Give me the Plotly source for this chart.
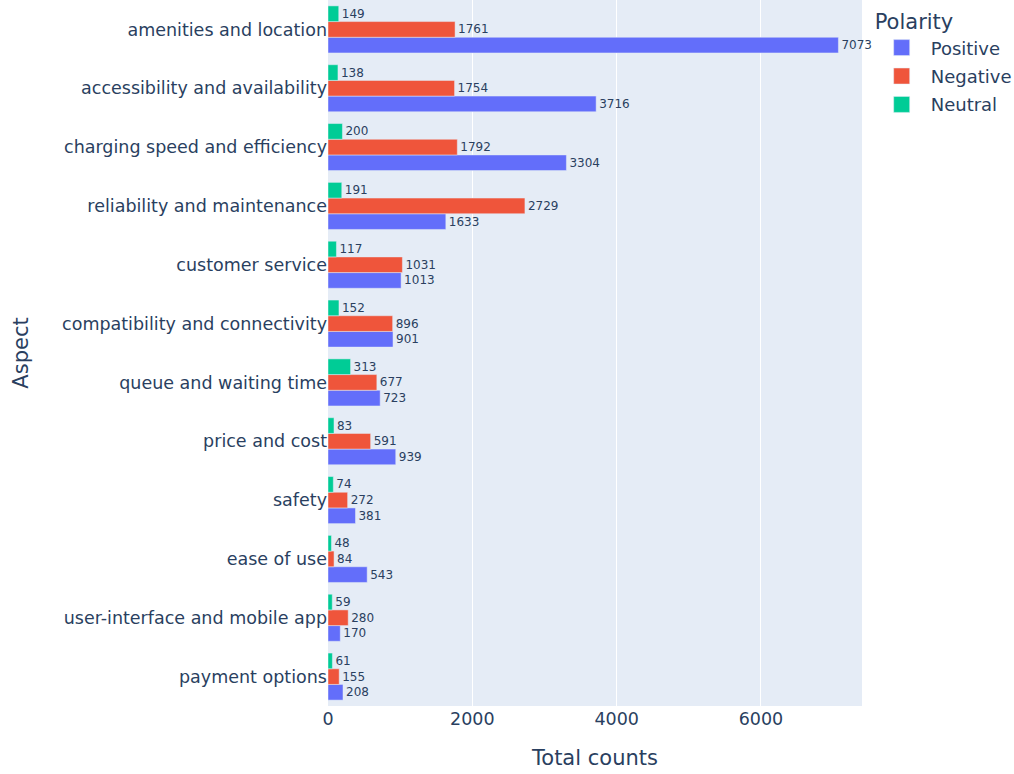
import plotly.graph_objects as go

aspects = ["amenities and location", "accessibility and availability", "charging speed and efficiency",
           "reliability and maintenance", "customer service", "compatibility and connectivity",
           "queue and waiting time", "price and cost", "safety", "ease of use",
           "user-interface and mobile app", "payment options"]
positive = [7073, 3716, 3304, 1633, 1013, 901, 723, 939, 381, 543, 170, 208]
negative = [1761, 1754, 1792, 2729, 1031, 896, 677, 591, 272, 84, 280, 155]
neutral = [149, 138, 200, 191, 117, 152, 313, 83, 74, 48, 59, 61]

series = [("Positive", positive, "#636efa"), ("Negative", negative, "#EF553B"), ("Neutral", neutral, "#00cc96")]

fig = go.Figure()
for name, vals, color in series:
    fig.add_trace(go.Bar(y=aspects, x=vals, name=name, orientation="h", marker_color=color,
                         marker_line=dict(color="#E5ECF6", width=0.5),
                         text=vals, textposition="outside", textfont=dict(size=12),
                         cliponaxis=False, showlegend=False, legendgroup=name))
# legend entries (larger square symbols)
for name, vals, color in series:
    fig.add_trace(go.Scatter(x=[None], y=[None], mode="markers", name=name, legendgroup=name,
                             marker=dict(symbol="square", size=16, color=color,
                                         line=dict(color="#E5ECF6", width=0.5))))

fig.update_layout(
    width=1014, height=774,
    barmode="group",
    font=dict(family="Verdana, DejaVu Sans, sans-serif", color="#2a3f5f"),
    plot_bgcolor="#E5ECF6", paper_bgcolor="white",
    margin=dict(l=328, r=152, t=0, b=68, autoexpand=False),
    legend=dict(title=dict(text="Polarity", font=dict(size=21)), font=dict(size=18),
                tracegroupgap=2, itemwidth=48, itemsizing="trace", y=0.997, yanchor="top"),
    xaxis=dict(title=dict(text="Total counts", font=dict(size=21), standoff=22), tickfont=dict(size=17.5),
               range=[0, 7400], gridcolor="white", zeroline=False, tickvals=[0, 2000, 4000, 6000]),
    yaxis=dict(title=dict(text="Aspect", font=dict(size=21), standoff=27), tickfont=dict(size=17.5),
               categoryorder="array", categoryarray=aspects[::-1], automargin=False),
)
fig.write_html("out.html", config={"displayModeBar": False},
               post_script="document.body.style.margin='0';document.body.style.overflow='hidden';")
